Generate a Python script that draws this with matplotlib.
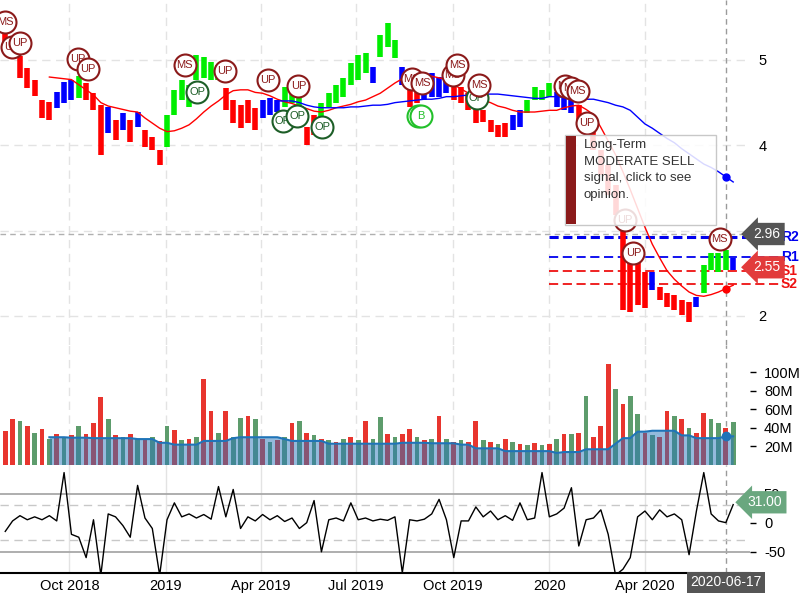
import numpy as np
import pandas as pd
import matplotlib
matplotlib.use("Agg")
import matplotlib.pyplot as plt
from matplotlib.patches import Rectangle

plt.rcParams['font.family'] = ['Liberation Sans', 'DejaVu Sans']
plt.rcParams['axes.unicode_minus'] = False

nan = np.nan

# one bar per week (Wednesdays), starting 2018-08-01
first_week = "2018-08-01"

price_hi = [5.33, 5.26, 5.05, 4.91, 4.77, 4.53, 4.51, 4.63, 4.74, 4.77,
            4.81, 4.73, 4.61, 4.47, 4.45, 4.30, 4.38, 4.30, 4.39, 4.18,
            4.10, 3.95, 4.36, 4.65, 4.77, 4.71, 5.06, 5.04, 4.98, 4.94,
            4.67, 4.53, 4.47, 4.53, 4.44, 4.53, 4.56, 4.53, 4.68, 4.67,
            4.57, 4.21, 4.36, 4.50, 4.61, 4.71, 4.79, 4.97, 5.06, 5.08,
            4.92, 5.29, 5.43, 5.23, 4.92, 4.77, 4.73, 4.80, 4.85, 4.80,
            4.88, 4.77, 4.68, 4.61, 4.45, 4.41, 4.30, 4.24, 4.26, 4.36,
            4.41, 4.53, 4.68, 4.65, 4.73, 4.63, 4.57, 4.53, 4.47, 4.36,
            4.24, 3.95, 3.77, 3.53, 3.03, 2.71, 2.63, 2.52, 2.52, 2.34,
            2.27, 2.25, 2.19, 2.16, 2.22, 2.60, 2.74, 2.74, 2.77, 2.68]
price_lo = [5.09, 5.05, 4.79, 4.67, 4.58, 4.32, 4.30, 4.44, 4.50, 4.53,
            4.56, 4.53, 4.41, 3.89, 4.14, 4.06, 4.18, 4.04, 4.21, 3.98,
            3.95, 3.77, 3.98, 4.36, 4.53, 4.45, 4.77, 4.79, 4.77, 4.77,
            4.41, 4.26, 4.20, 4.26, 4.18, 4.32, 4.36, 4.39, 4.45, 4.50,
            4.41, 4.00, 4.12, 4.32, 4.45, 4.50, 4.57, 4.71, 4.77, 4.85,
            4.73, 5.04, 5.15, 5.02, 4.71, 4.45, 4.50, 4.53, 4.57, 4.57,
            4.61, 4.53, 4.50, 4.41, 4.26, 4.27, 4.16, 4.10, 4.10, 4.18,
            4.21, 4.38, 4.53, 4.53, 4.57, 4.45, 4.41, 4.38, 4.30, 4.18,
            3.95, 3.65, 3.42, 3.18, 2.07, 2.05, 2.13, 2.09, 2.30, 2.19,
            2.10, 2.07, 2.01, 1.93, 2.10, 2.27, 2.54, 2.52, 2.54, 2.54]
# r = below trend, b = neutral, g = above trend
bar_trend = "".join("""rrrrrrr bbb g rrr b r b r b rrr gggggggg rrrrr bbb ggg rr
                       ggggggg b ggg b rr bbbb rrrrrrrr bb gggg bbb rrrrrrrrrr b
                       rrrrr b gggg b""".split())

ma_short = [nan] * 6 + [
    4.80, 4.79, 4.78, 4.77,
    4.71, 4.65, 4.59, 4.50, 4.46, 4.44, 4.42, 4.40, 4.39, 4.32,
    4.26, 4.20, 4.16, 4.17, 4.20, 4.24, 4.31, 4.39, 4.46, 4.52,
    4.59, 4.64, 4.65, 4.65, 4.62, 4.61, 4.58, 4.54, 4.51, 4.49,
    4.46, 4.43, 4.40, 4.39, 4.41, 4.44, 4.46, 4.48, 4.51, 4.53,
    4.57, 4.61, 4.67, 4.73, 4.78, 4.82, 4.85, 4.84, 4.81, 4.79,
    4.77, 4.71, 4.66, 4.61, 4.57, 4.53, 4.50, 4.46, 4.44, 4.41,
    4.39, 4.39, 4.39, 4.40, 4.41, 4.41, 4.44, 4.46, 4.47, 4.42,
    4.36, 4.21, 4.05, 3.89, 3.69, 3.48, 3.26, 3.04, 2.84, 2.68,
    2.53, 2.43, 2.35, 2.28, 2.24, 2.23, 2.25, 2.28, 2.32, 2.36]
ma_long = [nan] * 37 + [
    4.52, 4.52, 4.52,
    4.50, 4.47, 4.45, 4.44, 4.44, 4.44, 4.44, 4.45, 4.45, 4.46,
    4.47, 4.47, 4.48, 4.50, 4.51, 4.52, 4.53, 4.54, 4.54, 4.55,
    4.57, 4.57, 4.58, 4.59, 4.59, 4.60, 4.60, 4.60, 4.59, 4.58,
    4.57, 4.56, 4.55, 4.55, 4.57, 4.57, 4.56, 4.55, 4.55, 4.54,
    4.54, 4.52, 4.50, 4.47, 4.45, 4.41, 4.33, 4.25, 4.20, 4.14,
    4.08, 4.03, 3.96, 3.90, 3.84, 3.78, 3.74, 3.69, 3.63, 3.57]

# volume in millions
volume = [37, 50, 48, 42, 35, 39, 28, 33, 30, 32,
          42, 34, 45, 74, 50, 32, 30, 33, 28, 27,
          30, 26, 42, 38, 27, 28, 30, 93, 58, 35,
          58, 30, 51, 53, 50, 28, 25, 27, 30, 45,
          48, 35, 32, 28, 27, 25, 28, 30, 27, 48,
          28, 52, 33, 30, 33, 39, 30, 27, 28, 53,
          28, 25, 27, 25, 48, 27, 25, 23, 28, 25,
          23, 22, 24, 22, 23, 28, 33, 33, 35, 75,
          30, 42, 109, 82, 66, 75, 55, 35, 32, 30,
          58, 53, 50, 40, 35, 56, 50, 45, 40, 46]
vol_dir = "".join("""rrgrgrgrgr grrrgrgrgr grgrgrgrrg rggrgrgrgr grgrgrgrgr
                     ggrgrrgrgr grgrrgrgrg rgrgrgrgrg rrrgrggrgr rgrgrrggrg""".split())
vol_avg = [nan] * 6 + [
    30, 30, 30, 29.5,
    29.5, 29.5, 29, 29, 29, 29, 29, 29, 28, 28,
    28, 24, 24, 22, 22, 22, 22, 26, 26, 26,
    26, 29, 30, 30, 30, 30, 30, 30, 28, 26,
    26, 26, 26, 26, 23, 23, 23, 23, 23, 23,
    23, 23, 23, 23, 24, 24, 24, 24, 23.5, 23.5,
    23.5, 23.5, 22, 22, 18, 18, 18, 18, 15, 15,
    15, 15, 15, 15, 15, 13, 14, 14, 14, 17,
    17, 17, 17, 23, 29, 29, 36, 36, 37, 37,
    37, 37, 32, 32, 29, 29, 29, 29, 31, 31]

osc = [-15, 3, 12, 5, 10, 5, 12, 3, 86, -20,
       -25, -60, 5, -90, 15, 10, -5, -25, 64, 8,
       -10, -90, 5, 34, 10, 15, 8, 14, 6, 62,
       10, 57, -10, 10, 3, 14, 5, 12, 2, 8,
       -10, 0, 38, -50, 5, 8, 3, 34, 5, 8,
       3, 6, 4, 10, -86, 5, 3, 6, 15, 40,
       5, -60, 3, 3, 27, 10, 20, 5, 12, 4,
       34, 5, 8, 86, 10, 15, 25, 60, -40, 5,
       8, 22, -20, -90, -80, -60, 10, 20, 5, 22,
       10, 15, 5, -55, 20, 86, 15, 3, 0, 31]

# support / resistance levels
sr_names = ["R2", "R1", "S1", "S2"]
sr_values = [2.93, 2.69, 2.53, 2.37]

# signal bubbles
sig_dates = ["2018-08-01", "2018-08-07", "2018-08-15", "2018-10-09", "2018-10-19",
             "2019-01-19", "2019-01-31", "2019-02-26", "2019-04-08", "2019-04-22",
             "2019-05-06", "2019-05-07", "2019-05-30", "2019-08-23", "2019-08-29",
             "2019-09-01", "2019-09-02", "2019-10-01", "2019-10-05", "2019-10-24",
             "2019-10-26", "2020-01-16", "2020-01-22", "2020-01-28", "2020-02-06",
             "2020-03-13", "2020-03-21", "2020-06-11"]
sig_prices = [5.45, 5.15, 5.20, 5.01, 4.89, 4.94, 4.63, 4.87, 4.77, 4.29,
              4.34, 4.70, 4.22, 4.78, 4.34, 4.34, 4.73, 4.82, 4.94, 4.56,
              4.71, 4.70, 4.67, 4.64, 4.26, 3.12, 2.74, 2.90]
sig_labels = ["MS", "UP", "UP", "UP", "UP", "MS", "OP", "UP", "UP", "OP",
              "OP", "UP", "OP", "MS", "B", "B", "MS", "MS", "MS", "OP",
              "MS", "MS", "MS", "MS", "UP", "UP", "UP", "MS"]

tick_dates = ["2018-10-01", "2019-01-01", "2019-04-01", "2019-07-01",
              "2019-10-01", "2020-01-01", "2020-04-01"]
tick_labels = ["Oct 2018", "2019", "Apr 2019", "Jul 2019", "Oct 2019", "2020", "Apr 2020"]

last_price = 2.55
cross_price = 2.96
cross_idx = 98   # 2020-06-17

weeks = pd.date_range(first_week, periods=len(price_hi), freq="7D")
tdates = pd.to_datetime(tick_dates)
xday = weeks[cross_idx]

fig = plt.figure(figsize=(8, 6), dpi=100)
ax = fig.add_axes([0, 0.425, 0.9375, 0.575])
axv = fig.add_axes([0, 0.225, 0.9375, 0.2], sharex=ax)
axo = fig.add_axes([0, 0.045, 0.9375, 0.18], sharex=ax)

grid_c = "#e3e3e3"
for a in (ax, axv, axo):
    for s in a.spines.values():
        s.set_visible(False)
    for d in tdates:
        a.axvline(d, color=grid_c, lw=1, ls=(0, (6, 4)) if a is not axo else "-", zorder=0)
    a.axvline(xday, color="#9a9a9a", lw=1, ls=(0, (4, 3)), zorder=1)

ax.set_xlim(pd.Timestamp("2018-07-27"), pd.Timestamp("2020-07-10"))

# ---- price panel
ax.set_ylim(1.659, 5.703)
for v in [2, 3, 4, 5]:
    ax.axhline(v, color=grid_c, lw=1, ls=(0, (6, 4)), zorder=0)
ax.axhline(cross_price, color="#b0b0b0", lw=1, ls=(0, (4, 3)), zorder=1)

trend_col = {"r": "#ff0000", "b": "#0000ff", "g": "#00ee00"}
ax.vlines(weeks, price_lo, price_hi, colors=[trend_col[c] for c in bar_trend], lw=4, zorder=2)
ax.plot(weeks, ma_short, color="#ff0000", lw=1, zorder=3)
ax.plot(weeks, ma_long, color="#0000ff", lw=1, zorder=3)
ax.plot(xday, ma_long[cross_idx], "o", color="#0000ff", ms=5, zorder=4)
ax.plot(xday, ma_short[cross_idx], "o", color="#ff0000", ms=5, zorder=4)

sr_col = ["#0000ee", "#0000ee", "#ee1111", "#ee1111"]
sr_lw = [2.2, 1.3, 1.3, 1.3]
for name, v, c, w in zip(sr_names, sr_values, sr_col, sr_lw):
    ax.plot([pd.Timestamp("2020-01-01"), pd.Timestamp("2020-08-10")], [v, v],
            color=c, lw=w, ls=(0, (6.6 / w, 3.3 / w)), clip_on=False, zorder=1.5)
    ax.text(1.041, v, name, transform=ax.get_yaxis_transform(), color=c,
            fontsize=10, fontweight="bold", ha="left", va="center", clip_on=False, zorder=6)

sig_style = {"MS": "#8b1a1a", "UP": "#8b1a1a", "OP": "#1d5e27", "B": "#22c02a"}
for i, (d, p, lab) in enumerate(zip(sig_dates, sig_prices, sig_labels)):
    c = sig_style[lab]
    ax.scatter(pd.Timestamp(d), p, s=250, facecolor="white", edgecolor=c,
               lw=1.5, zorder=5 + i * 0.01, clip_on=False)
    ax.text(pd.Timestamp(d), p, lab, color=c, fontsize=8, ha="center", va="center",
            zorder=5.005 + i * 0.01)

ax.yaxis.tick_right()
ax.set_yticks([2, 4, 5])   # the 3 sits under the crosshair price box
ax.tick_params(axis="y", length=0, pad=6, labelsize=10.5)
ax.tick_params(axis="x", bottom=False, labelbottom=False)

ax.text(1.0227, cross_price, "%.2f" % cross_price, transform=ax.get_yaxis_transform(),
        color="white", fontsize=10, ha="center", va="center", clip_on=False, zorder=10,
        bbox=dict(boxstyle="larrow,pad=0.3", fc="#555555", ec="none"))
ax.text(1.0227, last_price + 0.02, "%.2f" % last_price, transform=ax.get_yaxis_transform(),
        color="white", fontsize=10, ha="center", va="center", clip_on=False, zorder=10,
        bbox=dict(boxstyle="larrow,pad=0.3", fc="#e23b3b", ec="none"))

# ---- volume panel
axv.set_ylim(0, 129.7)
vcol = {"r": "#e8352e", "g": "#5d9c6c"}
axv.bar(weeks, volume, width=4.5, color=[vcol[c] for c in vol_dir], zorder=2)
axv.fill_between(weeks, vol_avg, color="#2a76bb", alpha=0.5, lw=0, zorder=3)
axv.plot(weeks, vol_avg, color="#1f74b8", lw=1.5, zorder=4)
axv.plot(xday, vol_avg[cross_idx], "o", color="#1f74b8", ms=6, zorder=5)
axv.yaxis.tick_right()
axv.set_yticks([20, 40, 60, 80, 100])
axv.set_yticklabels(["20M", "40M", "60M", "80M", "100M"])
axv.tick_params(axis="y", length=4, width=1, pad=6, labelsize=10.5)
axv.tick_params(axis="x", bottom=False, labelbottom=False)

# ---- oscillator panel
axo.set_ylim(-86.4, 99)
for v in [50, -50]:
    axo.axhline(v, color="#a8a8a8", lw=1.3, zorder=1)
for v in [30, -30]:
    axo.axhline(v, color="#c8c8c8", lw=1, ls=(0, (6, 4)), zorder=1)
axo.plot(weeks, osc, color="black", lw=1, zorder=3)
axo.spines["bottom"].set_visible(True)
axo.spines["bottom"].set_linewidth(1.5)
axo.yaxis.tick_right()
axo.set_yticks([-50, 0, 50])
axo.tick_params(axis="y", length=4, width=1, pad=6, labelsize=10.5)
axo.set_xticks(tdates)
axo.set_xticklabels(tick_labels)
axo.tick_params(axis="x", length=0, pad=4, labelsize=10.5)

axo.text(1.02, osc[-1] + 4, "%.2f" % osc[-1], transform=axo.get_yaxis_transform(),
         color="white", fontsize=10, ha="center", va="center", clip_on=False, zorder=10,
         bbox=dict(boxstyle="larrow,pad=0.3", fc="#6aa77f", ec="none"))
axo.text(xday, -0.085, xday.strftime("%Y-%m-%d"), transform=axo.get_xaxis_transform(),
         color="white", fontsize=10, ha="center", va="center", clip_on=False, zorder=10,
         bbox=dict(boxstyle="square,pad=0.25", fc="#555555", ec="none"))

# ---- opinion tooltip
fig.add_artist(Rectangle((0.70625, 0.625), 0.18875, 0.15, transform=fig.transFigure,
                         fc=(1, 1, 1, 0.85), ec="#c8c8c8", lw=1, zorder=20))
fig.add_artist(Rectangle((0.7075, 0.6267), 0.0125, 0.1467, transform=fig.transFigure,
                         fc="#8b1a1a", ec="none", zorder=21))
fig.text(0.73, 0.768, "Long-Term\nMODERATE SELL\nsignal, click to see\nopinion.",
         color="#333333", fontsize=9.5, va="top", ha="left", linespacing=1.5, zorder=22)

fig.savefig("out.png", dpi=100)
